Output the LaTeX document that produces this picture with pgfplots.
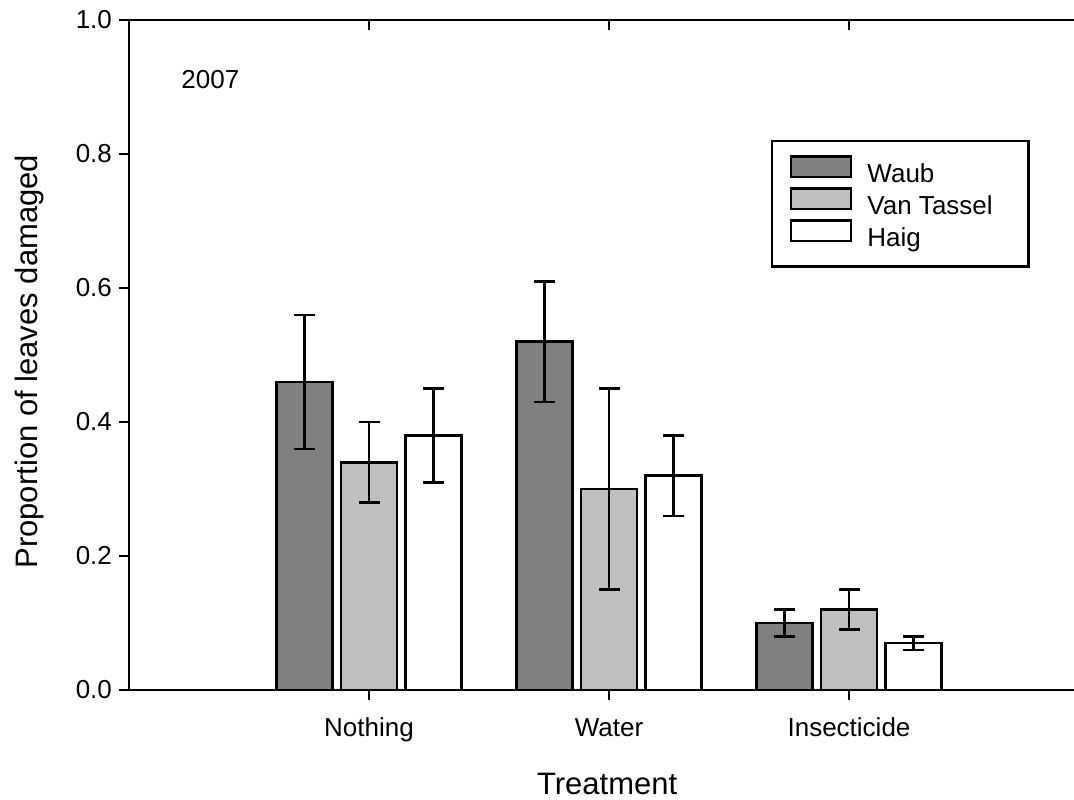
\documentclass[border=0pt]{standalone}
\usepackage{pgfplots}
\pgfplotsset{compat=1.18}
\usepackage{fontspec}
\setmainfont{Liberation Sans}
\definecolor{waub}{RGB}{128,128,128}
\definecolor{vant}{RGB}{192,192,192}
\pgfplotstableread{
x y e
1 0.46 0.10
2 0.52 0.09
3 0.10 0.02
}\waub
\pgfplotstableread{
x y e
1 0.34 0.06
2 0.30 0.15
3 0.12 0.03
}\vant
\pgfplotstableread{
x y e
1 0.38 0.07
2 0.32 0.06
3 0.07 0.01
}\haig
\begin{document}
\begin{tikzpicture}
\pgfplotsset{
  common/.style={
    width=472.5pt, height=335pt, scale only axis,
    xmin=0, xmax=3.9375, ymin=0, ymax=1,
    xtick={1,2,3},
    major tick length=5pt,
    every tick/.style={black, line width=1.2pt},
    axis line style={line width=1.3pt},
  }
}
\begin{axis}[common, name=main,
  axis x line*=box, axis y line*=left,
  xtick pos=left, ytick pos=left,
  tick align=outside,
  ytick={0,0.2,0.4,0.6,0.8,1.0},
  yticklabels={0.0,0.2,0.4,0.6,0.8,1.0},
  xticklabels={Nothing, Water, Insecticide},
  xticklabel style={font=\fontsize{13}{15.6}\selectfont, text height=9.5pt, text depth=3pt, yshift=-5pt},
  yticklabel style={font=\fontsize{13}{15.6}\selectfont},
  xlabel={Treatment}, ylabel={Proportion of leaves damaged},
  label style={font=\fontsize{15.5}{18}\selectfont},
  xlabel style={at={(axis description cs:0.506,-0.1567)}, anchor=base},
  ylabel style={at={(axis description cs:-0.1048,0.49)}, anchor=center},
  ybar, bar width=28pt,
  legend style={at={(rel axis cs:0.679,0.821)}, anchor=north west,
    draw=black, line width=1.2pt, inner xsep=9pt, inner ysep=7pt,
    font=\fontsize{13}{15.6}\selectfont, row sep=-0.75pt,
    /tikz/column 1/.style={column sep=7.5pt},
    nodes={inner sep=0pt, text height=9.5pt, text depth=3pt}},
  legend cell align=left,
  legend image code/.code={\draw[#1, line width=1.3pt] (0pt,-0.5pt) rectangle (30pt,9.8pt);},
  error bars/y dir=both, error bars/y explicit,
  error bars/error bar style={line width=1.3pt, black},
  error bars/error mark options={rotate=90, mark size=5.25pt, line width=1.3pt, black},
]
\addplot[fill=waub, draw=black, line width=1.3pt, bar shift=-32.25pt]
  table[x=x, y=y, y error=e] {\waub};
\addplot[fill=vant, draw=black, line width=1.3pt, bar shift=0pt]
  table[x=x, y=y, y error=e] {\vant};
\addplot[fill=white, draw=black, line width=1.3pt, bar shift=32.25pt]
  table[x=x, y=y, y error=e] {\haig};
\legend{Waub, \makebox[71.5pt][l]{Van Tassel}, Haig}
\node[anchor=base west, inner sep=0pt, font=\fontsize{13}{15.6}\selectfont] at (axis cs:0.2167,0.8985) {2007};
\end{axis}
\begin{axis}[common,
  axis x line*=top, axis y line=none,
  tick align=inside, xticklabels={},
]
\end{axis}
\pgfresetboundingbox
\path ([shift={(-64.5pt,-54.5pt)}]main.south west) rectangle ([shift={(0pt,10pt)}]main.north east);
\end{tikzpicture}
\end{document}
